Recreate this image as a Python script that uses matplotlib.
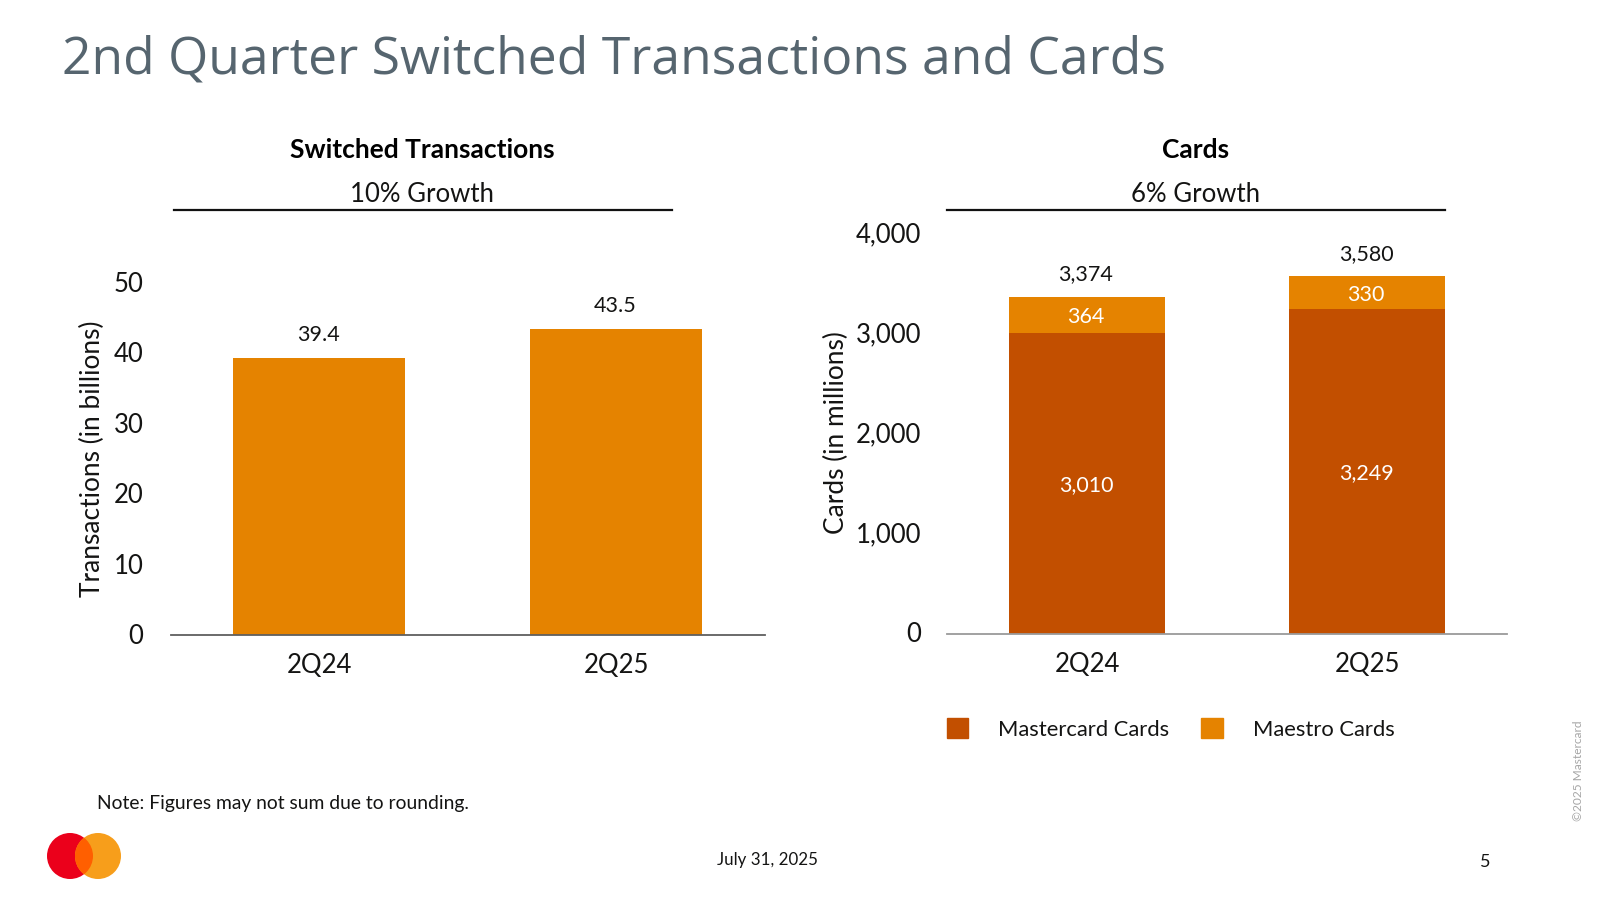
import matplotlib
matplotlib.use("Agg")
import matplotlib.pyplot as plt
from matplotlib.lines import Line2D
from matplotlib.patches import Circle, Patch
from matplotlib.transforms import ScaledTranslation

plt.rcParams['font.family'] = ['Lato', 'DejaVu Sans']

categories = ["2Q24", "2Q25"]
transactions = [39.4, 43.5]
mastercard_cards = [3010, 3249]
maestro_cards = [364, 330]
card_totals = [3374, 3580]
left_ticks = [0, 10, 20, 30, 40, 50]
right_ticks = [0, 1000, 2000, 3000, 4000]

W, H = 1600, 900
ORANGE = "#E58300"
RUST = "#C24F00"
TXT = "#141413"

fig = plt.figure(figsize=(W / 100, H / 100), dpi=100, facecolor="white")

def fx(x): return x / W
def fy(y): return 1 - y / H
def box(x0, x1, ytop, ybot):
    return [fx(x0), fy(ybot), (x1 - x0) / W, (ybot - ytop) / H]

def style(ax, axis_color, ylim, ticks, up_px, ypad):
    for s in ("top", "left", "right"):
        ax.spines[s].set_visible(False)
    ax.spines["bottom"].set_color(axis_color)
    ax.spines["bottom"].set_linewidth(1.3)
    ax.set_xlim(-0.5, 1.5)
    ax.set_ylim(*ylim)
    ax.set_yticks(ticks)
    ax.set_xticks(range(len(categories)))
    ax.set_xticklabels(categories)
    ax.tick_params(axis="y", length=0, pad=ypad, labelsize=18.5, labelcolor=TXT)
    ax.tick_params(axis="x", length=0, pad=13, labelsize=18.5, labelcolor=TXT)
    ax.patch.set_alpha(0)
    shift = ScaledTranslation(0, up_px / 100, fig.dpi_scale_trans)
    for lab in ax.get_yticklabels():
        lab.set_transform(lab.get_transform() + shift)

# Left chart
ax1 = fig.add_axes(box(170.5, 765, 283, 635))
style(ax1, "#5F5F5F", (0, 50), left_ticks, 1, 19.5)
ax1.bar(range(2), transactions, width=0.578, color=ORANGE, zorder=2)
for i, v in enumerate(transactions):
    ax1.annotate(f"{v:.1f}", (i, v), xytext=(-0.7, 16.5), textcoords="offset points",
                 ha="center", va="center", fontsize=15.5, color=TXT)

# Right chart
ax2 = fig.add_axes(box(947, 1507, 234, 633.7))
ax2.yaxis.set_major_formatter(matplotlib.ticker.FuncFormatter(lambda v, _: f"{int(v):,}"))
style(ax2, "#9A9A9A", (0, 4000), right_ticks, 1.5, 18.5)
ax2.bar(range(2), mastercard_cards, width=0.56, color=RUST, zorder=2, label="Mastercard Cards")
ax2.bar(range(2), maestro_cards, bottom=mastercard_cards, width=0.56, color=ORANGE, zorder=2,
        label="Maestro Cards")
for i in range(2):
    ax2.annotate(f"{mastercard_cards[i]:,}", (i, mastercard_cards[i] / 2), xytext=(-0.7, -1.5),
                 textcoords="offset points", ha="center", va="center", fontsize=15.5,
                 color="white", zorder=3)
    ax2.annotate(f"{maestro_cards[i]:,}", (i, mastercard_cards[i] + maestro_cards[i] / 2), xytext=(-0.7, -1.5),
                 textcoords="offset points", ha="center", va="center", fontsize=15.5,
                 color="white", zorder=3)
    ax2.annotate(f"{card_totals[i]:,}", (i, card_totals[i]), xytext=(-0.7, 16), textcoords="offset points",
                 ha="center", va="center", fontsize=15.5, color=TXT)

# Axis titles
fig.text(fx(92), fy(459), "Transactions (in billions)", rotation=90, ha="center", va="center",
         fontsize=18.9, color=TXT)
fig.text(fx(836), fy(433), "Cards (in millions)", rotation=90, ha="center", va="center",
         fontsize=18.9, color=TXT)

# Slide title
fig.text(fx(62), fy(60), "2nd Quarter Switched Transactions and Cards", ha="left", va="center",
         fontsize=37.2, color="#56656F", family=["Open Sans", "DejaVu Sans"])

# Panel headers
for cx, x0, x1, head, growth in [(422, 173.5, 671.5, "Switched Transactions", "10% Growth"),
                                 (1196, 947, 1444.5, "Cards", "6% Growth")]:
    fig.text(fx(cx), fy(150), head, ha="center", va="center", fontsize=19, fontweight="bold", color="black")
    fig.text(fx(cx), fy(194), growth, ha="center", va="center", fontsize=18.5, color=TXT)
    fig.add_artist(Line2D([fx(x0), fx(x1)], [fy(209.5), fy(209.5)], color="#111111", lw=1.6))

# Legend
fs = 15.8
handles = [Patch(color=RUST, label="Mastercard Cards"), Patch(color=ORANGE, label="Maestro Cards")]
fig.legend(handles=handles, loc="center left", bbox_to_anchor=(fx(946.5), fy(729)), ncol=2,
           frameon=False, fontsize=fs, borderpad=0, borderaxespad=0,
           handlelength=15.8 / fs, handleheight=15.8 / fs,
           handletextpad=21.5 / fs, columnspacing=23 / fs, labelcolor=TXT)

# Footer
fig.text(fx(97), fy(803), "Note: Figures may not sum due to rounding.", ha="left", va="center",
         fontsize=13.9, color=TXT)
fig.text(fx(767), fy(860), "July 31, 2025", ha="center", va="center", fontsize=12.2, color=TXT)
fig.text(fx(1485), fy(862), "5", ha="center", va="center", fontsize=13, color=TXT)
fig.text(fx(1579), fy(771), "©2025 Mastercard", rotation=90, ha="center", va="center",
         fontsize=8.6, color="#A6A6A6")

# Logo
logo = fig.add_axes([0, 0, 1, 1], zorder=-1)
logo.set_xlim(0, W)
logo.set_ylim(H, 0)
logo.axis("off")
logo.add_patch(Circle((70, 856), 23, color="#EB001B", lw=0))
logo.add_patch(Circle((98, 856), 23, color="#F79E1B", lw=0))
overlap = Circle((70, 856), 23, color="#FF5F00", lw=0)
logo.add_patch(overlap)
overlap.set_clip_path(Circle((98, 856), 23, transform=logo.transData))

fig.savefig("out.png", dpi=100)
